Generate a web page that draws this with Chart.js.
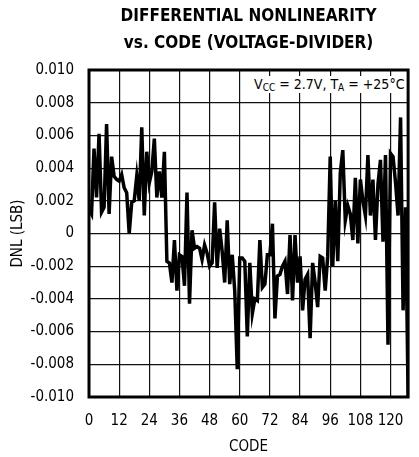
<!DOCTYPE html>
<html>
<head>
<meta charset="utf-8">
<script src="https://cdn.jsdelivr.net/npm/chart.js@4/dist/chart.umd.min.js"></script>
<style>
  html, body { margin: 0; padding: 0; background: #fff; }
  #wrap { position: relative; width: 419px; height: 457px; }
  #note {
    position: absolute; left: 252px; top: 76px; height: 17px;
    padding: 0 2px; background: #fff; white-space: nowrap;
    font-family: 'DejaVu Sans Condensed', 'Liberation Sans Narrow', sans-serif;
    font-size: 14px; line-height: 17px; color: #000;
  }
  #note sub { font-size: 10px; vertical-align: -2px; line-height: 0; }
</style>
</head>
<body>
<div id="wrap">
  <canvas id="chart"></canvas>
  <div id="note">V<sub>CC</sub> = 2.7V, T<sub>A</sub> = +25°C</div>
</div>
<script>
// DNL per code (LSB)
const dnl = [
  0.0015, 0.0012, 0.0052, 0.0022, 0.0061, 0.0013, 0.0016, 0.0067, 0.0012, 0.0047,
  0.0035, 0.0033, 0.0032, 0.0036, 0.0028, 0.0025, 0.0000, 0.0019, 0.0020, 0.0035,
  0.0020, 0.0065, 0.0011, 0.0050, 0.0031, 0.0038, 0.0058, 0.0022, 0.0038, 0.0022,
  0.0050, -0.0017, -0.0018, -0.0030, -0.0004, -0.0035, -0.0013, -0.0014, -0.0032, 0.0025,
  -0.0043, 0.0002, -0.0009, -0.0008, -0.0009, -0.0016, -0.0007, -0.0012, -0.0020, -0.0018,
  0.0019, -0.0021, 0.0003, -0.0011, -0.0030, 0.0008, -0.0031, -0.0013, -0.0035, -0.0083,
  -0.0015, -0.0015, -0.0017, -0.0063, -0.0018, -0.0049, -0.0040, -0.0041, -0.0004, -0.0033,
  -0.0031, -0.0013, -0.0013, 0.0006, -0.0052, -0.0026, -0.0025, -0.0020, -0.0017, -0.0037,
  -0.0001, -0.0041, -0.0001, -0.0030, -0.0014, -0.0047, -0.0028, -0.0025, -0.0064, -0.0018,
  -0.0030, -0.0045, -0.0014, -0.0015, -0.0035, -0.0014, 0.0047, -0.0020, 0.0020, -0.0017,
  0.0037, 0.0051, 0.0008, 0.0017, 0.0012, -0.0004, 0.0034, -0.0006, 0.0033, 0.0020,
  0.0011, 0.0048, 0.0011, 0.0033, -0.0004, 0.0030, 0.0045, -0.0005, 0.0048, -0.0068,
  0.0049, 0.0047, 0.0031, 0.0011, 0.0071, -0.0047, 0.0016, -0.0100
];
const codes = dnl.map((_, i) => i);

const xTicks = [0, 12, 24, 36, 48, 60, 72, 84, 96, 108, 120];
const yTicks = [-0.010, -0.008, -0.006, -0.004, -0.002, 0, 0.002, 0.004, 0.006, 0.008, 0.010];

const FONT = "'DejaVu Sans Condensed', 'Liberation Sans Narrow', sans-serif";

// thick frame round the plot area
const framePlugin = {
  id: 'frame',
  afterDatasetsDraw(chart) {
    const a = chart.chartArea;
    const ctx = chart.ctx;
    ctx.save();
    ctx.strokeStyle = '#000';
    ctx.lineWidth = 3;
    ctx.strokeRect(a.left, a.top, a.right - a.left, a.bottom - a.top);
    ctx.restore();
  }
};

const canvas = document.getElementById('chart');
canvas.width = 419;
canvas.height = 457;

new Chart(canvas.getContext('2d'), {
  type: 'line',
  data: {
    datasets: [{
      data: codes.map((c, i) => ({ x: c, y: dnl[i] })),
      borderColor: '#000',
      borderWidth: 3.5,
      pointRadius: 0,
      tension: 0,
      fill: false
    }]
  },
  options: {
    responsive: false,
    animation: false,
    layout: { padding: { left: 0, right: 4, top: 0, bottom: 0 } },
    plugins: {
      legend: { display: false },
      tooltip: { enabled: false },
      title: {
        display: true,
        text: ['DIFFERENTIAL NONLINEARITY', 'vs. CODE (VOLTAGE-DIVIDER)'],
        color: '#000',
        fullSize: false,
        font: { family: FONT, size: 17, weight: 'bold', lineHeight: 1.6 },
        padding: { top: 3, bottom: 12.6 }
      }
    },
    scales: {
      x: {
        type: 'linear',
        min: 0,
        max: 127,
        afterBuildTicks: s => { s.ticks = xTicks.map(v => ({ value: v })); },
        afterFit: s => { s.height = 60; },
        ticks: {
          color: '#000', padding: 15, maxRotation: 0, autoSkip: false,
          font: { family: FONT, size: 15 }
        },
        grid: { color: '#111', lineWidth: 1.2, drawTicks: false },
        border: { display: false },
        title: {
          display: true, text: 'CODE', color: '#000',
          font: { family: FONT, size: 15 },
          padding: { top: 0, bottom: 1 }
        }
      },
      y: {
        min: -0.010,
        max: 0.010,
        afterBuildTicks: s => { s.ticks = yTicks.map(v => ({ value: v })); },
        afterFit: s => { s.width = 89; },
        ticks: {
          color: '#000', padding: 15,
          font: { family: FONT, size: 15 },
          callback: v => Math.abs(v) < 1e-9 ? '0' : v.toFixed(3)
        },
        grid: { color: '#111', lineWidth: 1.2, drawTicks: false },
        border: { display: false },
        title: {
          display: true, text: 'DNL (LSB)', color: '#000',
          font: { family: FONT, size: 15 },
          padding: { top: 9, bottom: 0 }
        }
      }
    }
  },
  plugins: [framePlugin]
});
</script>
</body>
</html>
